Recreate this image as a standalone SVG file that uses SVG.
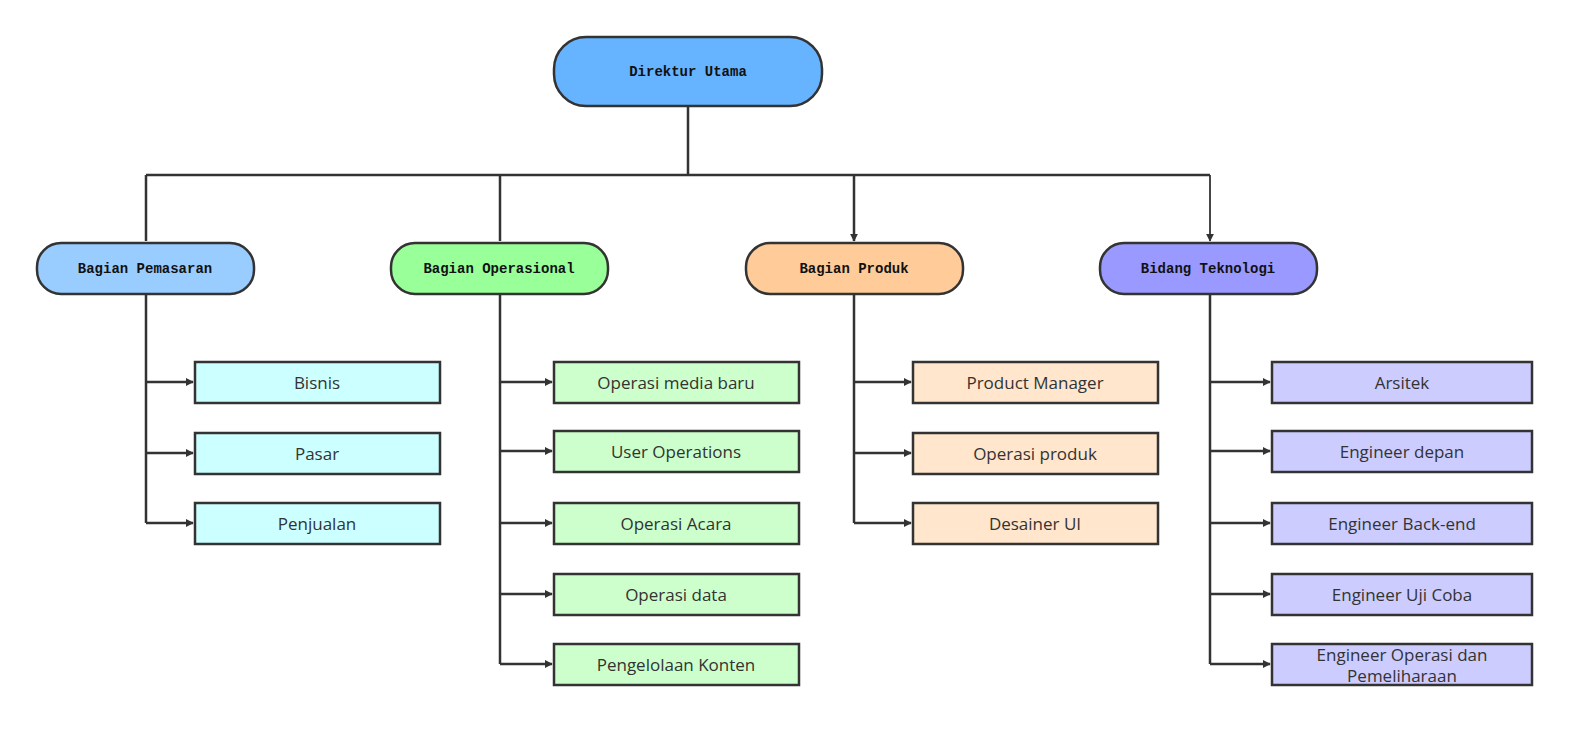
<svg xmlns="http://www.w3.org/2000/svg" width="1595" height="735" viewBox="0 0 1595 735">
<defs>
<marker id="a" viewBox="0 0 10 10" refX="9" refY="5" markerWidth="8" markerHeight="8" markerUnits="userSpaceOnUse" orient="auto"><path d="M0,0L10,5L0,10z" fill="#333"/></marker>
<style>
.m{stroke:#333;stroke-width:2.5}
.l{fill:none;stroke:#333;stroke-width:2.5}
.t1{font-family:"Liberation Mono",monospace;font-weight:bold;font-size:14px;fill:#111;text-anchor:middle;dominant-baseline:central}
.t2{font-family:"Open Sans","Liberation Sans",sans-serif;font-size:17px;fill:#333;text-anchor:middle;dominant-baseline:central}
</style>
</defs>
<rect width="1595" height="735" fill="#fff"/>
<g id="connectors">
<path class="l" d="M688,106V175M146,175H1210"/>
<path class="l" d="M146,175V241M500,175V241M854,175V241" marker-end="url(#a)"/>
<path d="M1210,175V241" fill="none" stroke="#333" stroke-width="1.8" marker-end="url(#a)"/>
<path class="l" d="M146,294V523M500,294V664M854,294V523M1210,294V664"/>
<g class="l" marker-end="url(#a)">
<path class="l" d="M146,382H193" marker-end="url(#a)"/><path class="l" d="M146,453H193" marker-end="url(#a)"/><path class="l" d="M146,523H193" marker-end="url(#a)"/>
<path class="l" d="M500,382H552" marker-end="url(#a)"/><path class="l" d="M500,451H552" marker-end="url(#a)"/><path class="l" d="M500,523H552" marker-end="url(#a)"/><path class="l" d="M500,594H552" marker-end="url(#a)"/><path class="l" d="M500,664H552" marker-end="url(#a)"/>
<path class="l" d="M854,382H911" marker-end="url(#a)"/><path class="l" d="M854,453H911" marker-end="url(#a)"/><path class="l" d="M854,523H911" marker-end="url(#a)"/>
<path class="l" d="M1210,382H1270" marker-end="url(#a)"/><path class="l" d="M1210,451H1270" marker-end="url(#a)"/><path class="l" d="M1210,523H1270" marker-end="url(#a)"/><path class="l" d="M1210,594H1270" marker-end="url(#a)"/><path class="l" d="M1210,664H1270" marker-end="url(#a)"/>
</g>
</g>
<g id="direktur"><rect class="m" x="554" y="37" width="268" height="69" rx="32" fill="#66b3ff"/><text class="t1" x="688" y="72">Direktur Utama</text></g>
<g id="pemasaran"><rect class="m" x="37" y="243" width="217" height="51" rx="24" fill="#99ccff"/><text class="t1" x="145" y="269">Bagian Pemasaran</text></g>
<g id="operasional"><rect class="m" x="391" y="243" width="217" height="51" rx="24" fill="#99ff99"/><text class="t1" x="499" y="269">Bagian Operasional</text></g>
<g id="produk"><rect class="m" x="746" y="243" width="217" height="51" rx="24" fill="#ffcc99"/><text class="t1" x="854" y="269">Bagian Produk</text></g>
<g id="teknologi"><rect class="m" x="1100" y="243" width="217" height="51" rx="24" fill="#9999ff"/><text class="t1" x="1208" y="269">Bidang Teknologi</text></g>
<g id="p1"><rect class="m" x="195" y="362" width="245" height="41" fill="#ccffff"/><text class="t2" x="317" y="382">Bisnis</text></g>
<g id="p2"><rect class="m" x="195" y="433" width="245" height="41" fill="#ccffff"/><text class="t2" x="317" y="453">Pasar</text></g>
<g id="p3"><rect class="m" x="195" y="503" width="245" height="41" fill="#ccffff"/><text class="t2" x="317" y="523">Penjualan</text></g>
<g id="o1"><rect class="m" x="554" y="362" width="245" height="41" fill="#ccffcc"/><text class="t2" x="676" y="382">Operasi media baru</text></g>
<g id="o2"><rect class="m" x="554" y="431" width="245" height="41" fill="#ccffcc"/><text class="t2" x="676" y="451">User Operations</text></g>
<g id="o3"><rect class="m" x="554" y="503" width="245" height="41" fill="#ccffcc"/><text class="t2" x="676" y="523">Operasi Acara</text></g>
<g id="o4"><rect class="m" x="554" y="574" width="245" height="41" fill="#ccffcc"/><text class="t2" x="676" y="594">Operasi data</text></g>
<g id="o5"><rect class="m" x="554" y="644" width="245" height="41" fill="#ccffcc"/><text class="t2" x="676" y="664">Pengelolaan Konten</text></g>
<g id="d1"><rect class="m" x="913" y="362" width="245" height="41" fill="#ffe6cc"/><text class="t2" x="1035" y="382">Product Manager</text></g>
<g id="d2"><rect class="m" x="913" y="433" width="245" height="41" fill="#ffe6cc"/><text class="t2" x="1035" y="453">Operasi produk</text></g>
<g id="d3"><rect class="m" x="913" y="503" width="245" height="41" fill="#ffe6cc"/><text class="t2" x="1035" y="523">Desainer UI</text></g>
<g id="k1"><rect class="m" x="1272" y="362" width="260" height="41" fill="#ccccff"/><text class="t2" x="1402" y="382">Arsitek</text></g>
<g id="k2"><rect class="m" x="1272" y="431" width="260" height="41" fill="#ccccff"/><text class="t2" x="1402" y="451">Engineer depan</text></g>
<g id="k3"><rect class="m" x="1272" y="503" width="260" height="41" fill="#ccccff"/><text class="t2" x="1402" y="523">Engineer Back-end</text></g>
<g id="k4"><rect class="m" x="1272" y="574" width="260" height="41" fill="#ccccff"/><text class="t2" x="1402" y="594">Engineer Uji Coba</text></g>
<g id="k5"><rect class="m" x="1272" y="644" width="260" height="41" fill="#ccccff"/><text class="t2" x="1402" y="654">Engineer Operasi dan</text><text class="t2" x="1402" y="675">Pemeliharaan</text></g>
</svg>
